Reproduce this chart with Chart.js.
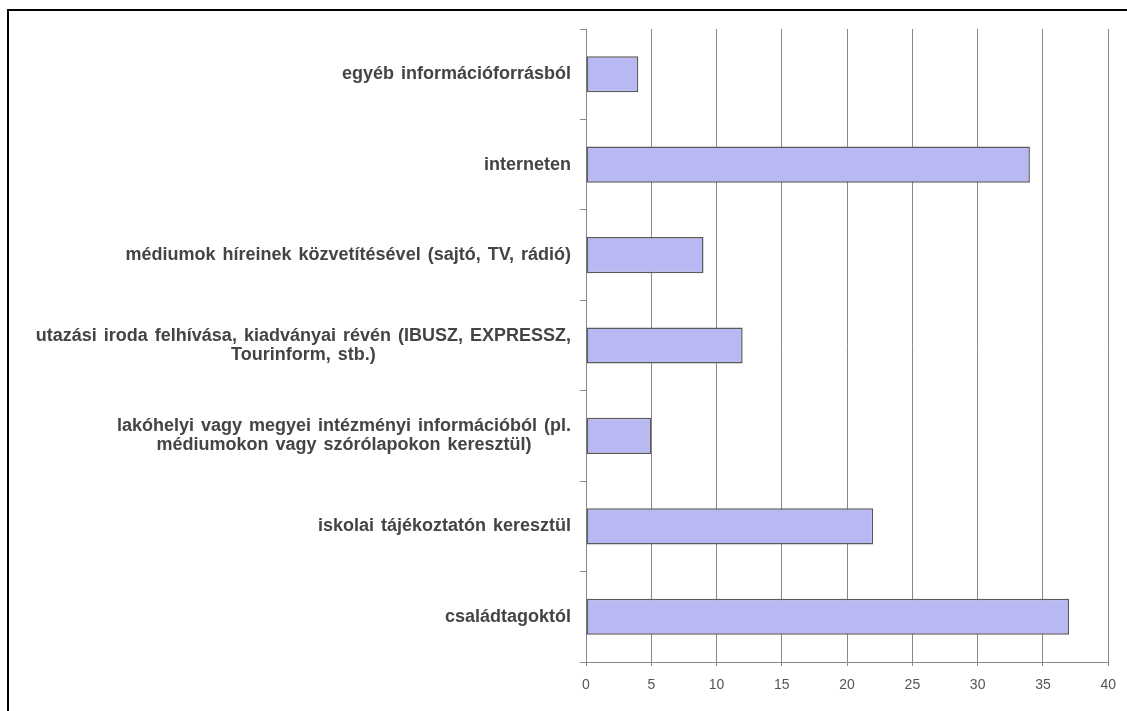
<!DOCTYPE html>
<html>
<head>
<meta charset="utf-8">
<script src="https://cdn.jsdelivr.net/npm/chart.js@4/dist/chart.umd.min.js"></script>
<style>
    html, body { margin: 0; padding: 0; background: #fff; overflow: hidden; }
    #frame {
        position: absolute; left: 7px; top: 9px;
        width: 2000px; height: 2000px;
        border: 2px solid #000;
    }
    #wrap { position: absolute; left: 0; top: 0; width: 1127px; height: 711px; }
</style>
</head>
<body>
<div id="frame"></div>
<div id="wrap"><canvas id="chart" width="1127" height="711"></canvas></div>
<script>
    "use strict";

    // kategóriák felülről lefelé
    const categories = [
        ["egyéb információforrásból"],
        ["interneten"],
        ["médiumok híreinek közvetítésével (sajtó, TV, rádió)"],
        ["utazási iroda felhívása, kiadványai révén (IBUSZ, EXPRESSZ,", "Tourinform, stb.)"],
        ["lakóhelyi vagy megyei intézményi információból (pl.", "médiumokon vagy szórólapokon keresztül)"],
        ["iskolai tájékoztatón keresztül"],
        ["családtagoktól"]
    ];
    const values = [4, 34, 9, 12, 5, 22, 37];
    const xTicks = [0, 5, 10, 15, 20, 25, 30, 35, 40];

    const LABEL_FONT = "bold 18px 'Liberation Sans', Arial, sans-serif";

    // a kategória feliratok: soronként középre igazítva, a blokk jobb széle a tengely mellett
    const categoryLabels = {
        id: 'categoryLabels',
        afterDraw(chart) {
            const y = chart.scales.y;
            const ctx = chart.ctx;
            const rightEdge = chart.chartArea.left - 15;
            const lineH = 19;
            ctx.save();
            ctx.font = LABEL_FONT;
            if ('wordSpacing' in ctx) ctx.wordSpacing = '2px';
            ctx.fillStyle = '#444';
            ctx.textBaseline = 'middle';
            ctx.textAlign = 'center';
            categories.forEach((lines, i) => {
                const cy = y.getPixelForTick(i);
                const w = Math.max(...lines.map(l => ctx.measureText(l).width));
                const cx = rightEdge - w / 2;
                const y0 = cy - (lines.length - 1) * lineH / 2;
                lines.forEach((l, j) => ctx.fillText(l, cx, y0 + j * lineH));
            });
            ctx.restore();
        }
    };

    const ctx = document.getElementById('chart').getContext('2d');
    new Chart(ctx, {
        type: 'bar',
        data: {
            labels: categories.map(c => c.join(' ')),
            datasets: [{
                data: values,
                backgroundColor: '#b8b8f2',
                borderColor: '#5a5a5a',
                borderWidth: 1.5,
                borderSkipped: false,
                barPercentage: 0.4,
                categoryPercentage: 1.0
            }]
        },
        options: {
            indexAxis: 'y',
            responsive: false,
            animation: false,
            devicePixelRatio: 1,
            layout: { padding: { top: 29, right: 16, left: 0, bottom: 0 } },
            plugins: {
                legend: { display: false },
                tooltip: { enabled: false }
            },
            scales: {
                x: {
                    min: xTicks[0],
                    max: xTicks[xTicks.length - 1],
                    afterBuildTicks: (scale) => { scale.ticks = xTicks.map(v => ({ value: v })); },
                    afterFit: (scale) => { scale.height = 49; },
                    grid: { color: '#888', tickLength: 4, lineWidth: 1 },
                    border: { color: '#888' },
                    ticks: {
                        padding: 11,
                        color: '#555',
                        font: { family: "'Liberation Sans', Arial, sans-serif", size: 14 }
                    }
                },
                y: {
                    offset: true,
                    afterFit: (scale) => { scale.width = 586; },
                    grid: { offset: true, drawOnChartArea: false, tickLength: 6, color: '#888' },
                    border: { color: '#888' },
                    ticks: { display: false }
                }
            }
        },
        plugins: [categoryLabels]
    });
</script>
</body>
</html>
